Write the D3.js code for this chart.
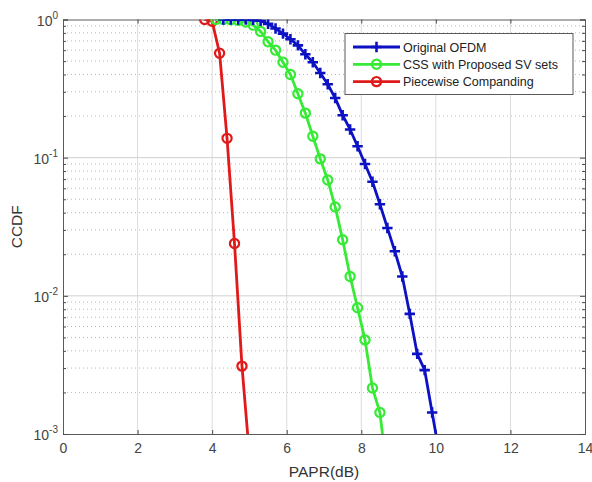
<!DOCTYPE html>
<html>
<head>
<meta charset="utf-8">
<script src="https://cdn.jsdelivr.net/npm/d3@7"></script>
<style>
  body { margin: 0; background: #fff; }
  svg { display: block; font-family: "Liberation Sans", Arial, sans-serif; }
</style>
</head>
<body>
<div id="chart"></div>
<script>
// PAPR (dB) and CCDF values
const seriesNames = ["Original OFDM", "CSS with Proposed SV sets", "Piecewise Companding"];

const ofdmX = [4.3, 4.5, 4.7, 4.9, 5.1, 5.3, 5.5, 5.7, 5.9, 6.1, 6.3, 6.5, 6.7, 6.9, 7.1, 7.3, 7.5, 7.7, 7.9, 8.1, 8.3, 8.5, 8.7, 8.9, 9.1, 9.3, 9.5, 9.7, 9.9, 10.1];
const ofdmY = [1.0, 1.0, 1.0, 0.998, 0.993, 0.98, 0.93, 0.86, 0.79, 0.72, 0.65, 0.56, 0.49, 0.41, 0.34, 0.27, 0.203, 0.16, 0.121, 0.09, 0.067, 0.046, 0.031, 0.021, 0.0138, 0.0074, 0.0038, 0.0029, 0.00143, 0.0007];

const cssX = [4.1, 4.3, 4.5, 4.7, 4.9, 5.1, 5.3, 5.5, 5.7, 5.9, 6.1, 6.3, 6.5, 6.7, 6.9, 7.1, 7.3, 7.5, 7.7, 7.9, 8.1, 8.3, 8.5, 8.7];
const cssY = [1.0, 1.0, 0.995, 0.985, 0.96, 0.91, 0.82, 0.69, 0.6, 0.49, 0.4, 0.29, 0.21, 0.143, 0.098, 0.069, 0.044, 0.0255, 0.0138, 0.0082, 0.0048, 0.00215, 0.00143, 0.0005];

const pwcX = [3.8, 4.0, 4.2, 4.4, 4.6, 4.8, 5.0];
const pwcY = [1.0, 0.97, 0.57, 0.138, 0.0239, 0.0031, 0.0007];

const xTicks = [0, 2, 4, 6, 8, 10, 12, 14];
const yExponents = [0, -1, -2, -3];

const colors = ["#0c12c4", "#36ea36", "#e01a1a"];
const markers = ["plus", "circle", "circle"];

let margin = ({ top: 19.5, right: 7, bottom: 48, left: 63 });
const width = 592, height = 482;

let x = d3.scaleLinear().domain([0, 14]).range([margin.left, width - margin.right]);
let y = d3.scaleLog().domain([1e-3, 1]).range([height - margin.bottom, margin.top]);

let svg = d3.select("#chart").append("svg")
    .attr("width", width)
    .attr("height", height);

svg.append("defs").append("clipPath").attr("id", "plotClip")
  .append("rect")
    .attr("x", margin.left).attr("y", margin.top)
    .attr("width", width - margin.left - margin.right)
    .attr("height", height - margin.top - margin.bottom);

// minor grid on log axis (dotted)
let minorTicks = [];
yExponents.slice(0, 3).forEach(e => {
  for (let k = 2; k <= 9; k++) minorTicks.push(k * Math.pow(10, e - 1));
});

svg.append("g").selectAll("line").data(minorTicks).join("line")
    .attr("x1", margin.left).attr("x2", width - margin.right)
    .attr("y1", d => y(d)).attr("y2", d => y(d))
    .attr("stroke", "#b8b8b8").attr("stroke-width", 1)
    .attr("stroke-dasharray", "1,3");

// major grid
svg.append("g").selectAll("line").data(xTicks.slice(1, -1)).join("line")
    .attr("x1", d => x(d)).attr("x2", d => x(d))
    .attr("y1", margin.top).attr("y2", height - margin.bottom)
    .attr("stroke", "#dcdcdc").attr("stroke-width", 1);

svg.append("g").selectAll("line").data(yExponents.slice(1, -1)).join("line")
    .attr("x1", margin.left).attr("x2", width - margin.right)
    .attr("y1", d => y(Math.pow(10, d))).attr("y2", d => y(Math.pow(10, d)))
    .attr("stroke", "#d0d0d0").attr("stroke-width", 1);

// axes with inward ticks
let xAxis = d3.axisBottom(x).tickValues(xTicks).tickSize(-4).tickPadding(9).tickFormat(d3.format("d"));
let xAxisTop = d3.axisTop(x).tickValues(xTicks).tickSize(-4).tickFormat("");
let yAxis = d3.axisLeft(y).tickValues(yExponents.map(e => Math.pow(10, e))).tickSize(-5).tickFormat("");
let yAxisRight = d3.axisRight(y).tickValues(yExponents.map(e => Math.pow(10, e))).tickSize(-5).tickFormat("");
let yMinorL = d3.axisLeft(y).tickValues(minorTicks).tickSize(-3).tickFormat("");
let yMinorR = d3.axisRight(y).tickValues(minorTicks).tickSize(-3).tickFormat("");

function styleAxis(g) {
  g.selectAll(".domain").attr("stroke", "#5a5a5a");
  g.selectAll(".tick line").attr("stroke", "#4a4a4a");
  g.selectAll("text").attr("fill", "#444").attr("font-size", 14)
    .attr("font-family", "'Liberation Sans', Arial, sans-serif");
}

svg.append("g").attr("transform", `translate(0,${height - margin.bottom})`).call(xAxis).call(styleAxis);
svg.append("g").attr("transform", `translate(0,${margin.top})`).call(xAxisTop).call(styleAxis);
svg.append("g").attr("transform", `translate(${margin.left},0)`).call(yAxis).call(styleAxis);
svg.append("g").attr("transform", `translate(${width - margin.right},0)`).call(yAxisRight).call(styleAxis);
svg.append("g").attr("transform", `translate(${margin.left},0)`).call(yMinorL).call(g => g.select(".domain").remove()).call(styleAxis);
svg.append("g").attr("transform", `translate(${width - margin.right},0)`).call(yMinorR).call(g => g.select(".domain").remove()).call(styleAxis);

// y tick labels 10^e
let yLabels = svg.append("g").selectAll("text").data(yExponents).join("text")
    .attr("x", margin.left - 5)
    .attr("y", d => y(Math.pow(10, d)) + 6)
    .attr("text-anchor", "end")
    .attr("fill", "#444")
    .attr("font-size", 14);
yLabels.append("tspan").text("10");
yLabels.append("tspan").attr("dy", -7).attr("font-size", 10).text(d => d);

// axis titles
svg.append("text")
    .attr("x", (margin.left + width - margin.right) / 2)
    .attr("y", 477)
    .attr("text-anchor", "middle")
    .attr("fill", "#333")
    .attr("font-size", 15.5)
    .text("PAPR(dB)");

svg.append("text")
    .attr("transform", `translate(22,${(margin.top + height - margin.bottom) / 2}) rotate(-90)`)
    .attr("text-anchor", "middle")
    .attr("fill", "#333")
    .attr("font-size", 15.5)
    .text("CCDF");

// series
let series = [
  { x: ofdmX, y: ofdmY },
  { x: cssX, y: cssY },
  { x: pwcX, y: pwcY }
].map((s, i) => ({
  name: seriesNames[i],
  color: colors[i],
  marker: markers[i],
  points: s.x.map((v, j) => ({ x: v, y: s.y[j] }))
}));

let line = d3.line().x(d => x(d.x)).y(d => y(d.y));

function drawMarker(g, type, color) {
  if (type === "circle") {
    g.append("circle").attr("r", 4.6)
      .attr("fill", "none").attr("stroke", color).attr("stroke-width", 2.2);
  } else {
    g.append("path").attr("d", "M-5.2,0H5.2M0,-5.2V5.2")
      .attr("fill", "none").attr("stroke", color).attr("stroke-width", 2.6);
  }
}

let plot = svg.append("g").attr("clip-path", "url(#plotClip)");

series.slice().reverse().forEach(s => {
  plot.append("path")
      .attr("d", line(s.points))
      .attr("fill", "none")
      .attr("stroke", s.color)
      .attr("stroke-width", 2.8)
      .attr("stroke-linejoin", "round");
  plot.append("g").selectAll("g")
      .data(s.points.filter(d => d.y >= 1e-3))
      .join("g")
      .attr("transform", d => `translate(${x(d.x)},${y(d.y)})`)
      .each(function () { drawMarker(d3.select(this), s.marker, s.color); });
});

// legend
let legend = svg.append("g").attr("transform", "translate(345,33.5)");
legend.append("rect")
    .attr("width", 228).attr("height", 61)
    .attr("fill", "#fff").attr("stroke", "#5a5a5a").attr("stroke-width", 1);

series.forEach((s, i) => {
  let row = legend.append("g").attr("transform", `translate(0,${13.5 + i * 17.3})`);
  row.append("line")
      .attr("x1", 8).attr("x2", 55)
      .attr("stroke", s.color).attr("stroke-width", 2.8);
  drawMarker(row.append("g").attr("transform", "translate(31.5,0)"), s.marker, s.color);
  row.append("text")
      .attr("x", 58).attr("y", 4.5)
      .attr("fill", "#222")
      .attr("font-size", 12.5)
      .text(s.name);
});
</script>
</body>
</html>
